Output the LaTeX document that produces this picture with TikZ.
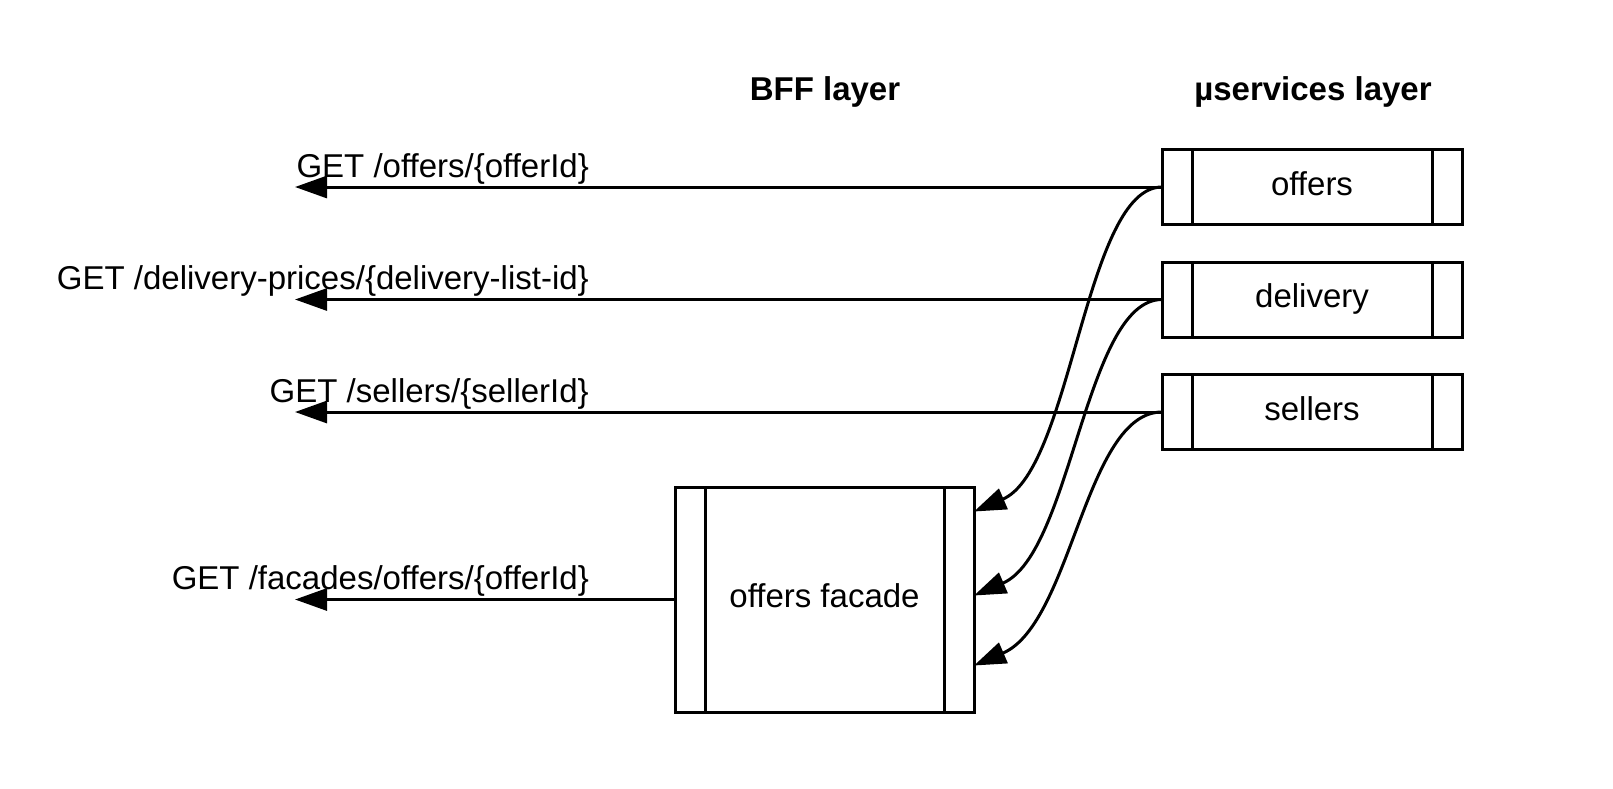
\documentclass[tikz,border=0pt]{standalone}
\usepackage{fontspec}
\setmainfont{Liberation Sans}
\usetikzlibrary{arrows.meta}
\begin{document}
\begin{tikzpicture}[x=1pt,y=-1pt,
  lw/.style={line width=3pt},
  proc/.style={draw, lw, outer sep=0pt, inner sep=0pt, font=\fontsize{33}{40}\selectfont,
    text height=24pt, text depth=8pt,
    append after command={
      \pgfextra{\let\myn\tikzlastnode}
      ([xshift=30pt]\myn.north west) edge[lw,-] ([xshift=30pt]\myn.south west)
      ([xshift=-30pt]\myn.north east) edge[lw,-] ([xshift=-30pt]\myn.south east)
    }},
  svc/.style={proc, minimum width=300pt, minimum height=75pt},
  hdr/.style={font=\fontsize{33}{40}\selectfont\bfseries, anchor=base, inner sep=0pt},
  lbl/.style={font=\fontsize{33}{40}\selectfont, anchor=base east, inner sep=0pt},
  conn/.style={lw, -{Triangle[length=32pt,width=22pt]}}
]
\useasboundingbox (0,0) rectangle (1613,788);

\node[hdr] (bff) at (825,100) {BFF layer};
\node[hdr] (usl) at (1313,100) {µservices layer};

\node[svc] (offers) at (1312,187) {offers};
\node[svc] (delivery) at (1312,299.5) {delivery};
\node[svc] (sellers) at (1312,412) {sellers};
\node[proc, minimum width=299pt, minimum height=225pt] (facade) at (824.5,599.5) {offers facade};

\coordinate (e1) at (295,187);
\coordinate (e2) at (295,299.5);
\coordinate (e3) at (295,412);
\coordinate (e4) at (295,599.5);

\node[lbl] (l1) at (589,177) {GET /offers/\{offerId\}};
\node[lbl] (l2) at (589,289.5) {GET /delivery-prices/\{delivery-list-id\}};
\node[lbl] (l3) at (589,402) {GET /sellers/\{sellerId\}};
\node[lbl] (l4) at (589,589.5) {GET /facades/offers/\{offerId\}};

\draw[conn] (offers.west) -- (e1);
\draw[conn] (delivery.west) -- (e2);
\draw[conn] (sellers.west) -- (e3);
\draw[conn] (facade.west) -- (e4);

\coordinate (f1) at ([yshift=88pt]facade.east);
\coordinate (f2) at ([yshift=4pt]facade.east);
\coordinate (f3) at ([yshift=-66pt]facade.east);

\draw[conn] (offers.west) .. controls +(-77,0) and +(98,-42) .. (f1);
\draw[conn] (delivery.west) .. controls +(-77,0) and +(98,-42) .. (f2);
\draw[conn] (sellers.west) .. controls +(-77,0) and +(98,-42) .. (f3);
\end{tikzpicture}
\end{document}
